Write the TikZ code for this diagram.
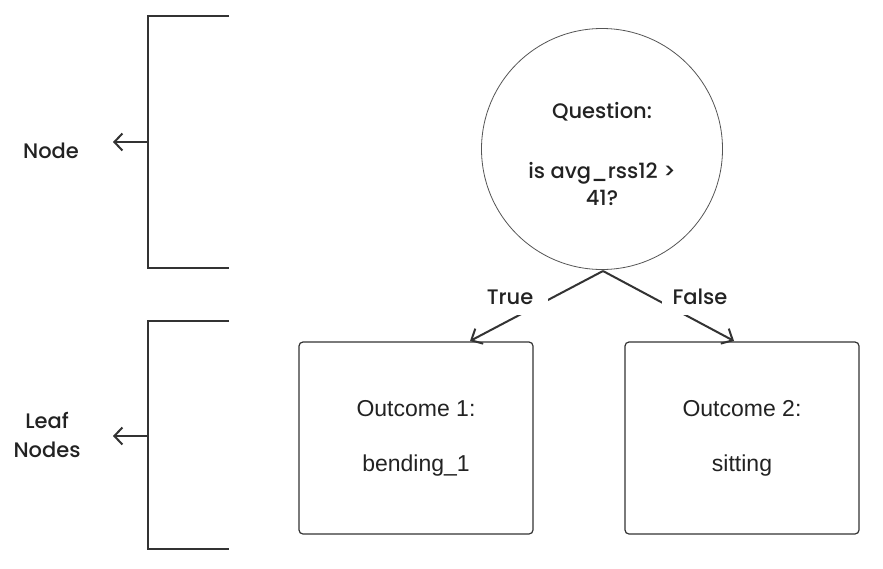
\documentclass[tikz,border=0pt]{standalone}
\usepackage{fontspec}
\setmainfont{Poppins}[UprightFont={* Medium}]
\newfontfamily\boxfont{Liberation Sans}
\usetikzlibrary{arrows.meta}
\definecolor{ink}{HTML}{333333}
\definecolor{txt}{HTML}{222222}
\definecolor{rim}{HTML}{555555}
\begin{document}
\begin{tikzpicture}[x=1pt,y=-1pt,
  every node/.style={text=txt},
  lbl/.style={font=\fontsize{21}{29}\selectfont, align=center, inner sep=0pt},
  qtext/.style={font=\fontsize{21}{27}\selectfont, align=center, inner sep=0pt},
  leafbox/.style={draw=ink, line width=1.2pt, rounded corners=4pt, minimum width=234pt, minimum height=192pt, inner sep=0pt, align=center, font=\boxfont\fontsize{23}{27.5}\selectfont},
  qcircle/.style={circle, draw=rim, line width=0.8pt, minimum size=241pt, inner sep=0pt},
  bracket/.style={draw=ink, line width=2pt},
  conn/.style={draw=ink, line width=2pt, -{Straight Barb[length=9pt,width=17pt,line width=2pt]}},
  edgelbl/.style={fill=white, minimum width=76pt, minimum height=36pt, inner sep=0pt, font=\fontsize{21}{27}\selectfont}
]
\useasboundingbox (0,0) rectangle (883,568);
\fill[white] (0,0) rectangle (883,568);

% question node
\node[qcircle] (q) at (602,149) {};
\node[qtext] (qt) at (602,154) {Question:\\[33pt]is avg\_rss12 >\\41?};

% leaf boxes
\node[leafbox] (l1) at (416,438) {Outcome 1:\\[27.5pt]bending\_1};
\node[leafbox] (l2) at (742,438) {Outcome 2:\\[27.5pt]sitting};

% connectors
\coordinate (qs) at (603,271);
\coordinate (l1in) at (470,341);
\coordinate (l2in) at (734,341);
\draw[conn] (qs) -- (l1in);
\draw[conn] (qs) -- (l2in);
\node[edgelbl] (tl) at (510,297) {True};
\node[edgelbl] (fl) at (700,297) {False};

% brackets
\draw[bracket] (229,16) -- (148,16) -- (148,268) -- (229,268);
\draw[bracket] (229,321) -- (148,321) -- (148,549) -- (229,549);
\coordinate (b1) at (148,142);
\coordinate (b2) at (148,436);
\node[lbl] (nodelbl) at (51,151) {Node};
\node[lbl] (leaflbl) at (47,435) {Leaf\\Nodes};
\coordinate (b1tip) at (113,142);
\coordinate (b2tip) at (113,436);
\draw[conn, -{Straight Barb[length=8pt,width=17pt,line width=2pt]}] (b1) -- (b1tip);
\draw[conn, -{Straight Barb[length=8pt,width=17pt,line width=2pt]}] (b2) -- (b2tip);
\end{tikzpicture}
\end{document}
